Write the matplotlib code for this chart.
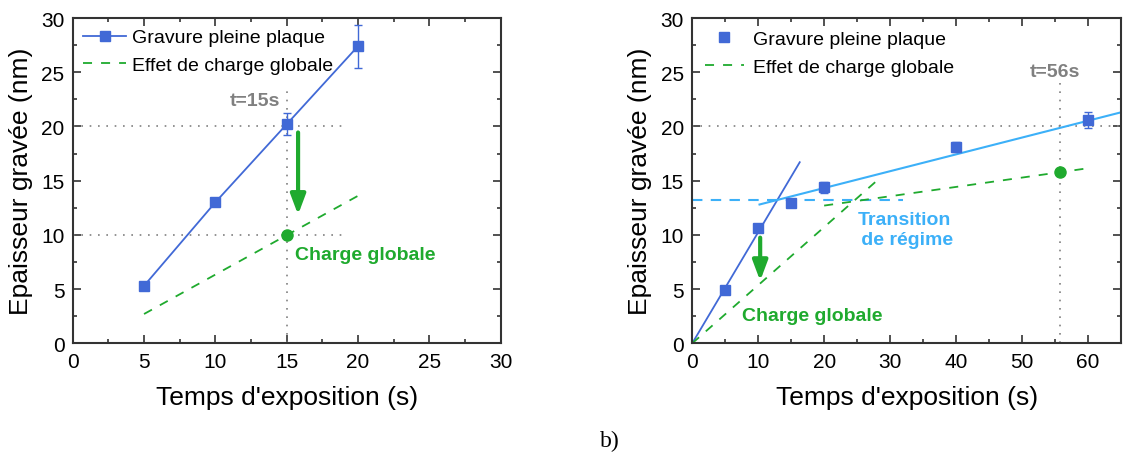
import matplotlib.pyplot as plt
from matplotlib.ticker import MultipleLocator
from matplotlib.lines import Line2D

plt.rcParams['font.family'] = ['Liberation Sans', 'DejaVu Sans']

# Panel a) data
t_a = [5, 10, 15, 20]
ep_a = [5.3, 13.0, 20.2, 27.4]
err_a = [0.2, 0.3, 1.0, 2.0]
charge_x_a = [5, 20]
charge_y_a = [2.7, 13.6]
point_a = (15, 10)

# Panel b) data
t_b = [5, 10, 15, 20, 40, 60]
ep_b = [4.9, 10.6, 12.9, 14.4, 18.1, 20.6]
err_b = [0.2, 0.3, 0.2, 0.5, 0.5, 0.7]
fit1_x = [0, 16.3]
fit1_y = [0, 16.7]
fit2_x = [10.2, 65]
fit2_y = [12.8, 21.3]
trans_x = [0, 32]
trans_y = [13.2, 13.2]
charge1_x = [0, 28]
charge1_y = [0, 15.0]
charge2_x = [20, 59.5]
charge2_y = [12.7, 16.1]
point_b = (55.7, 15.8)

blue = '#4169d6'
lightblue = '#3cb0f8'
green = '#1faa2e'
gray = '#808080'
axcol = '#333333'

fig = plt.figure(figsize=(11.38, 4.56), dpi=100)
ax1 = fig.add_axes([0.0639, 0.245, 0.376, 0.7133])
ax2 = fig.add_axes([0.6083, 0.245, 0.3767, 0.7133])


def style(ax, xmax, xmaj, xmin):
    ax.set_xlim(0, xmax)
    ax.set_ylim(0, 30)
    ax.xaxis.set_major_locator(MultipleLocator(xmaj))
    ax.xaxis.set_minor_locator(MultipleLocator(xmin))
    ax.yaxis.set_major_locator(MultipleLocator(5))
    ax.yaxis.set_minor_locator(MultipleLocator(2.5))
    ax.tick_params(which='both', direction='in', top=True, right=True,
                   color=axcol, width=1.2)
    ax.tick_params(which='major', length=6, labelsize=15, pad=6)
    ax.tick_params(which='minor', length=3)
    for s in ax.spines.values():
        s.set_color(axcol)
        s.set_linewidth(1.5)
    ax.set_xlabel("Temps d'exposition (s)", fontsize=19, labelpad=10)
    ax.set_ylabel("Epaisseur gravée (nm)", fontsize=19, labelpad=6)


dot = (0, (1, 4))
dash = (0, (5, 5))
arrow = dict(arrowstyle='-|>,head_width=0.45,head_length=1.2', color=green, lw=3)
labels = ['Gravure pleine plaque', 'Effet de charge globale']

# ---- panel a
style(ax1, 30, 5, 2.5)
ax1.plot([0, 19.3], [20, 20], ls=dot, color=gray, lw=1.2)
ax1.plot([0, 19.3], [10, 10], ls=dot, color=gray, lw=1.2)
ax1.plot([15, 15], [0, 23.3], ls=dot, color=gray, lw=1.2)
ax1.errorbar(t_a, ep_a, yerr=err_a, color=blue, marker='s', ms=7, lw=1.3,
             capsize=3, elinewidth=1)
ax1.plot(charge_x_a, charge_y_a, ls=dash, color=green, lw=1.3)
ax1.plot(*point_a, 'o', color=green, ms=8)
ax1.annotate('', xy=(15.8, 11.6), xytext=(15.8, 19.7), arrowprops=arrow)
ax1.text(11.0, 22.4, 't=15s', color=gray, fontsize=14, fontweight='bold', va='center')
ax1.text(15.6, 8.2, 'Charge globale', color=green, fontsize=14,
         fontweight='bold', va='center')
h1 = [Line2D([], [], color=blue, marker='s', ms=7, lw=1.3),
      Line2D([], [], ls=dash, color=green, lw=1.3)]
ax1.legend(h1, labels, loc='upper left', frameon=False, fontsize=14,
           handlelength=2.2, borderaxespad=0.1, borderpad=0.45,
           labelspacing=0.5, handletextpad=0.3)

# ---- panel b
style(ax2, 65, 10, 5)
ax2.plot([0, 65], [20, 20], ls=dot, color=gray, lw=1.2)
ax2.plot([55.7, 55.7], [0, 24.5], ls=dot, color=gray, lw=1.2)
ax2.plot(fit1_x, fit1_y, color=blue, lw=1.3)
ax2.plot(fit2_x, fit2_y, color=lightblue, lw=1.5)
ax2.plot(trans_x, trans_y, ls=(0, (5, 4)), color=lightblue, lw=1.5)
ax2.plot(charge1_x, charge1_y, ls=dash, color=green, lw=1.3)
ax2.plot(charge2_x, charge2_y, ls=dash, color=green, lw=1.3)
ax2.errorbar(t_b, ep_b, yerr=err_b, color=blue, marker='s', ms=7, ls='none',
             capsize=3, elinewidth=1)
ax2.plot(*point_b, 'o', color=green, ms=8)
ax2.annotate('', xy=(10.3, 5.5), xytext=(10.3, 10.0), arrowprops=arrow)
ax2.text(51.2, 25.1, 't=56s', color=gray, fontsize=14, fontweight='bold', va='center')
ax2.text(7.5, 2.6, 'Charge globale', color=green, fontsize=14,
         fontweight='bold', va='center')
ax2.text(32.2, 10.5, 'Transition\n de régime', color=lightblue, fontsize=14,
         fontweight='bold', ha='center', va='center', linespacing=1.25)
h2 = [Line2D([], [], color=blue, marker='s', ms=7, ls='none'),
      Line2D([], [], ls=dash, color=green, lw=1.3)]
ax2.legend(h2, labels, loc='upper left', frameon=False, fontsize=14,
           handlelength=2.0, borderaxespad=0.1, borderpad=0.55,
           labelspacing=0.5, handletextpad=0.5)

fig.text(0.536, 0.02, 'b)', fontsize=17, family='Liberation Serif', ha='center')

fig.savefig('out.png', dpi=100)
